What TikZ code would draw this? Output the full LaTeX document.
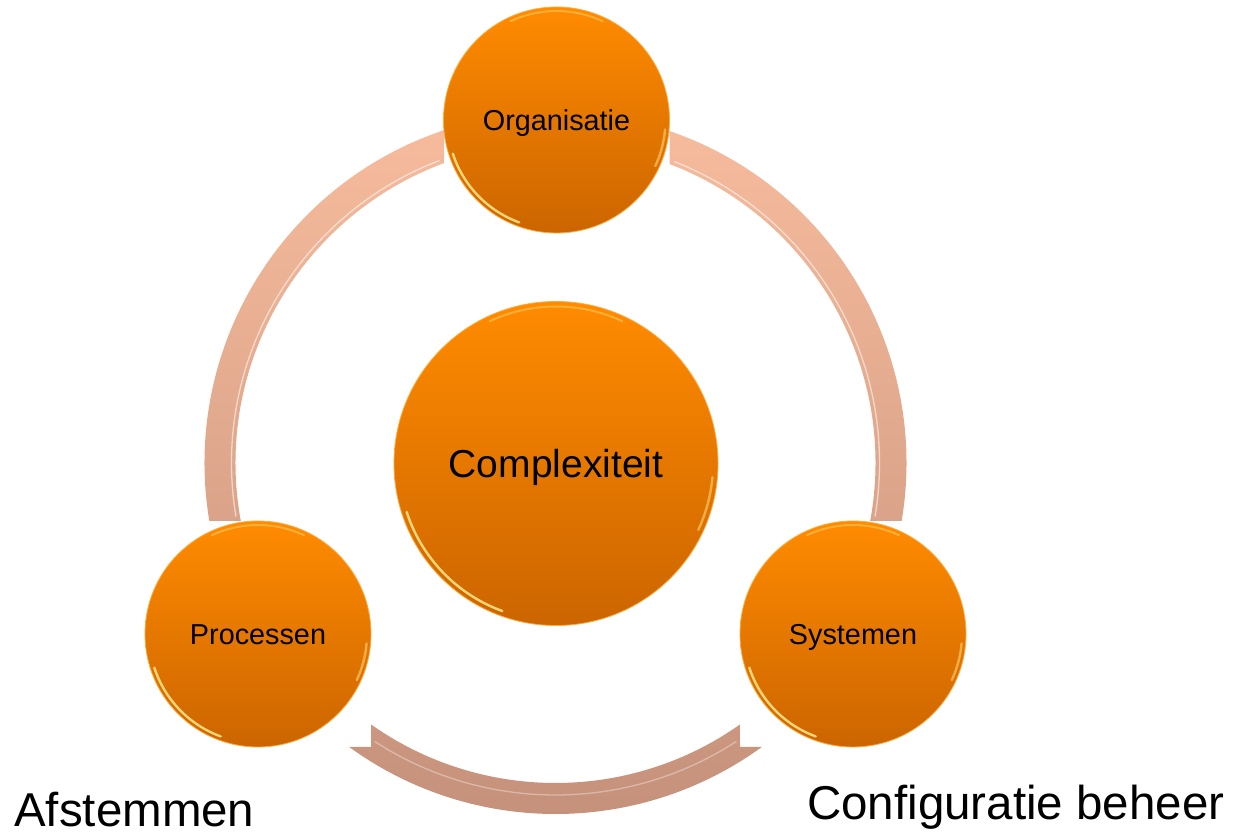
\documentclass[tikz,border=0pt]{standalone}
\usepackage{fontspec}
\setmainfont{Liberation Sans}
\definecolor{orbtop}{RGB}{255,139,0}
\definecolor{orbbot}{RGB}{204,101,0}
\definecolor{orbrim}{RGB}{255,170,60}
\definecolor{orbhl}{RGB}{255,232,140}
\definecolor{ringtop}{RGB}{246,187,156}
\definecolor{ringbot}{RGB}{196,144,122}
\begin{document}
\begin{tikzpicture}[x=1pt,y=1pt,
  orb/.style={circle, inner sep=0pt, draw=orbrim, line width=0.8pt,
    top color=orbtop, bottom color=orbbot, text=black},
  smallorb/.style={orb, minimum size=226pt, font=\fontsize{28.8}{34}\selectfont,
    text height=20.6pt, text depth=0pt},
  bigorb/.style={orb, minimum size=324pt, font=\fontsize{39}{46}\selectfont,
    text height=27.9pt, text depth=0pt},
  ringseg/.style={top color=ringtop, bottom color=ringbot, draw=none},
  ringhl/.style={line width=1.3pt, draw=white, opacity=0.55},
  hl/.style={line width=2.4pt, draw=orbhl, line cap=round, opacity=0.85},
  toplight/.style={line width=2pt, draw=orbhl, line cap=round, opacity=0.4},
  caption/.style={font=\fontsize{47.5}{56}\selectfont, inner sep=0pt, anchor=base west}]
\useasboundingbox (0,0) rectangle (1235,836);

% ring made of three segments (annulus minus the squares round the small circles)
\begin{scope}[shift={(555.5,373)}]
  \shade[ringseg]
    (108.5:351) arc[start angle=108.5, end angle=189.5, radius=351]
      -- (190.4:320) arc[start angle=190.4, end angle=110.4, radius=320] -- cycle
    (71.05:351) arc[start angle=71.05, end angle=-9.51, radius=351]
      -- (-10.44:320) arc[start angle=-10.44, end angle=69.1, radius=320] -- cycle
    (234.0:351) arc[start angle=234.0, end angle=306.0, radius=351]
      -- (184.5,-284) -- (305.2:320) arc[start angle=305.2, end angle=234.8, radius=320]
      -- (-184.5,-284) -- cycle;
  \draw[ringhl] (111:324) arc[start angle=111, end angle=189.5, radius=324];
  \draw[ringhl] (68.5:324) arc[start angle=68.5, end angle=-9.5, radius=324];
  \draw[ringhl, opacity=0.35] (237:332) arc[start angle=237, end angle=303, radius=332];
\end{scope}

% circles
\node[smallorb] (org)  at (556.5,716) {Organisatie};
\node[bigorb]   (cx)   at (556,372.5) {Complexiteit};
\node[smallorb] (proc) at (258,202)   {Processen};
\node[smallorb] (sys)  at (853,202)   {Systemen};

% bevel highlights
\foreach \n in {org,proc,sys}{
  \draw[hl] ([shift={(198:109)}]\n.center) arc[start angle=198, end angle=250, radius=109];
  \draw[hl, opacity=0.5] ([shift={(-5:109)}]\n.center) arc[start angle=-5, end angle=-25, radius=109];
  \draw[toplight] ([shift={(65:109)}]\n.center) arc[start angle=65, end angle=115, radius=109];
}
\draw[hl] ([shift={(198:157)}]cx.center) arc[start angle=198, end angle=250, radius=157];
\draw[hl, opacity=0.5] ([shift={(-5:157)}]cx.center) arc[start angle=-5, end angle=-25, radius=157];
\draw[toplight] ([shift={(65:157)}]cx.center) arc[start angle=65, end angle=115, radius=157];

% captions
\node[caption] (afst) at (14,10) {Afstemmen};
\node[caption] (conf) at (807,17) {Configuratie beheer};
\end{tikzpicture}
\end{document}
